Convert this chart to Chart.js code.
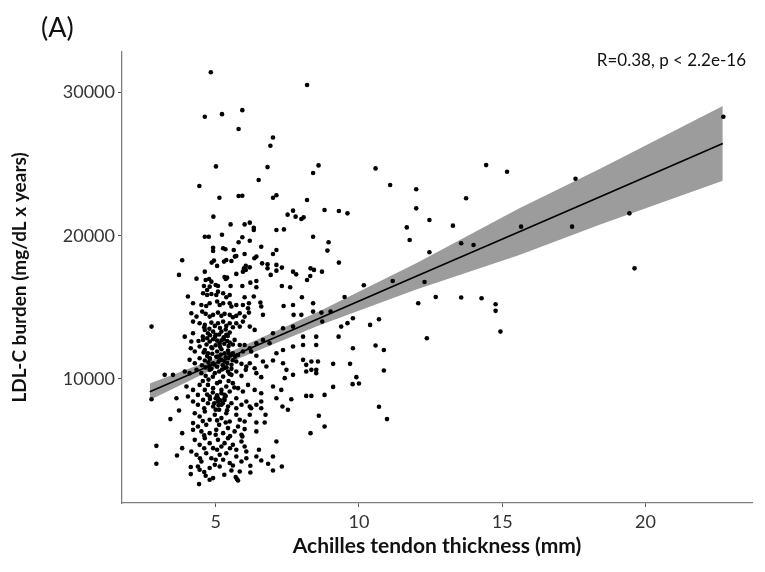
<!DOCTYPE html>
<html>
<head>
<meta charset="utf-8">
<script src="https://cdn.jsdelivr.net/npm/chart.js@4.4.1/dist/chart.umd.min.js"></script>
<style>
    html, body { margin: 0; padding: 0; background: #fff; }
    #wrap { position: relative; width: 765px; height: 572px; }
    .note { position: absolute; font-family: Lato, "Open Sans", sans-serif; color: #111; white-space: nowrap; }
    #panel { left: 41px; top: 10px; font-size: 27px; }
    #stat { right: 19px; top: 49px; font-size: 17px; }
</style>
</head>
<body>
<div id="wrap">
    <canvas id="scatterChart" width="765" height="572"></canvas>
    <div class="note" id="panel">(A)</div>
    <div class="note" id="stat">R=0.38, p &lt; 2.2e-16</div>
</div>
<script>
// each entry: [Achilles tendon thickness (mm), LDL-C burden (mg/dL x years)]
const patients = [
    [4.83,31420],[8.19,30520],[4.62,28310],[5.22,28490],[5.93,28770],[5.80,27450],[7.00,26860],[6.91,26280],[5.01,24840],[6.81,24790],
    [8.59,24910],[8.40,24380],[6.50,23890],[4.43,23470],[5.13,22650],[5.80,22770],[5.93,22790],[7.00,22650],[7.12,22820],[8.19,22490],
    [8.80,21790],[7.51,21470],[7.70,21750],[7.79,21330],[7.99,21170],[8.07,21280],[4.92,21330],[5.52,20790],[6.01,20790],[6.19,20910],
    [6.33,20560],[6.33,20400],[7.12,20400],[7.38,20440],[8.40,19930],[5.22,20070],[4.62,19930],[4.76,19930],[5.93,19890],[5.80,19540],
    [6.19,19650],[6.59,19230],[8.94,19540],[8.90,18960],[4.91,19160],[4.91,18930],[5.26,19120],[5.34,19050],[5.63,19000],[5.67,18540],
    [5.72,18580],[6.01,18720],[6.35,18420],[6.42,18540],[7.12,19000],[7.00,18720],[3.83,18280],[4.86,18120],[4.94,18260],[5.05,17890],
    [5.29,18190],[5.37,18300],[5.55,18230],[5.99,17720],[6.05,17610],[5.95,17490],[6.05,17890],[6.19,17790],[6.62,18070],[6.81,18000],
    [6.81,17720],[7.12,17960],[7.12,17560],[7.31,17770],[7.70,17490],[7.81,17300],[8.31,17720],[8.43,17610],[8.71,17490],[8.30,17190],
    [8.19,16910],[3.72,17260],[4.33,17000],[4.62,17490],[4.65,16910],[4.77,16980],[4.85,16790],[4.59,16490],[4.79,16440],[4.70,16210],
    [5.00,16560],[5.08,16490],[5.31,17120],[5.40,17070],[5.35,16980],[5.52,16490],[5.72,17330],[5.93,16490],[6.21,16720],[6.42,16840],
    [6.42,16400],[6.92,17260],[7.31,16490],[7.60,16400],[8.01,15700],[4.03,15750],[4.56,15980],[4.70,15860],[4.85,15930],[5.08,16090],
    [5.02,15860],[5.26,15980],[5.49,15860],[5.37,15700],[6.01,15700],[6.33,15750],
    [4.21,15280],[4.50,15160],[4.67,15090],[4.79,15280],[5.05,15400],[5.14,15160],[5.26,15280],[5.49,15280],[5.55,15050],[5.72,15160],
    [5.95,15160],[6.16,15280],[6.13,14930],[6.56,15330],[6.59,15050],[7.37,15090],[7.70,15160],[8.40,15280],
    [4.15,14580],[4.33,14350],[4.53,14700],[4.65,14540],[4.79,14350],[4.91,14470],[5.08,14630],[5.20,14400],[5.31,14540],[5.49,14470],
    [5.60,14300],[5.72,14400],[5.84,14580],[6.01,14350],[6.16,14630],[6.65,14470],[7.72,14470],[7.99,14470],[8.40,14700],[8.69,14630],
    [8.72,14000],[2.76,13650],
    [4.21,14000],[4.44,13880],[4.62,13770],[4.85,13930],[4.97,13700],[5.08,13880],[5.26,14000],[5.37,13700],[5.49,13880],[5.72,13880],
    [5.84,13650],[5.95,14000],[6.19,13650],[6.36,13420],[4.21,13190],[3.92,12950],[4.15,12610],[4.62,13420],[4.73,13190],[4.91,13300],
    [5.00,13070],[5.20,13300],[5.37,13070],[5.49,13230],[7.00,13190],[7.35,13540],[7.70,13650],[8.05,12950],[8.51,12950],[8.05,12370],
    [8.51,12370],
    [4.56,12720],[4.70,12840],[4.79,12610],[4.91,12770],[5.05,12670],[5.14,12490],[5.28,12770],[5.49,12540],[5.66,12720],[5.84,12370],
    [6.01,12370],[6.19,12140],[6.42,12490],[6.65,12720],[6.88,12490],[7.12,11790],[4.13,12140],[4.27,11910],[4.44,12260],[4.62,12020],
    [4.73,11790],[4.88,12140],[5.05,11910],[5.20,12070],[5.31,11790],[5.43,11980],[5.60,11790],[5.78,11670],[5.95,11910],[6.24,11910],
    [6.42,11610],[7.35,12020],[7.70,12260],[8.05,11330],[8.16,10980],[8.34,11210],[8.51,10630],[8.57,11210],
    [4.09,11330],[4.27,11090],[4.44,11440],[4.62,11280],[4.79,11440],[4.91,11090],[5.08,11560],[5.20,11330],[5.31,11210],[5.43,11440],
    [5.55,10980],[5.72,11210],[5.90,11050],[6.07,10860],[6.19,11090],[6.36,10740],[6.65,11210],[6.77,10860],[7.00,11280],[7.35,11090],
    [7.47,10630],[7.70,10280],[3.22,10280],[3.51,10280],[3.92,10510],[4.09,10400],[4.33,10630],[4.50,10400],[4.65,10210],[4.79,10630],
    [4.97,10400],[5.12,10510],[5.26,10160],[5.43,10510],[5.55,10280],[5.72,10510],[5.90,10210],[6.05,10630],[6.42,10400],[6.59,10120],
    [8.16,10510],[8.34,10630],[8.51,10400],
    [3.98,9470],[4.21,9230],[4.44,9580],[4.62,9230],[4.73,9580],[4.91,9350],[5.05,9700],[5.20,9230],[5.37,9470],[5.49,9120],
    [5.60,9700],[5.78,9350],[5.95,9120],[6.13,9580],[6.36,9230],[6.59,9000],[7.00,9470],[7.29,9230],[7.41,10050],[3.63,8650],
    [4.03,8770],[4.38,8880],[4.79,8770],[5.08,8650],[5.31,8880],[5.72,8650],
    [2.76,8580],[3.72,7790],[3.42,7190],[3.83,6210],[2.93,5320],[2.93,4070],[3.83,5160],[3.65,4650],[4.15,4930],[4.13,3840],
    [4.13,3350],[4.44,3650],[4.42,2650],[4.65,3230],[4.79,2950],[4.91,3070],[5.70,3140],[5.78,2900],[5.74,3000],[5.55,3600],
    [5.84,3530],[6.21,3460],[6.21,3930],[7.00,3600],[7.31,3880],[6.83,4070],[6.59,4300],[6.42,4580],[7.00,4580],[7.12,5630],
    [6.51,5050],[6.42,6330],[6.42,6950],[6.01,6490],[5.93,5980],[6.19,7490],[6.24,7950],[6.59,7950],[6.74,7490],[6.71,6950],
    [7.12,8650],[7.33,8070],[7.52,7840],[7.64,8580],[8.16,8810],[8.34,8810],[8.80,8880],[8.60,7420],[8.80,6670],[8.31,6210],
    [4.21,8420],[4.38,8190],[4.56,8530],[4.73,8300],[4.91,8070],[5.08,8420],[5.20,8190],[5.31,8530],[5.43,8070],[5.55,8300],
    [5.72,7950],[5.90,8190],[6.07,8420],[6.19,8070],[6.42,8190],[6.59,8420],
    [4.27,7600],[4.44,7370],[4.62,7720],[4.79,7140],[4.97,7490],[5.12,7840],[5.20,7260],[5.37,7600],[5.49,7020],[5.72,7490],
    [5.84,7140],[6.01,7020],[4.21,6910],[4.38,6670],
    [4.21,6440],[4.50,6330],[4.67,6790],[4.79,6210],[5.02,6440],[5.12,6790],[5.26,6210],[5.43,6560],[5.66,6330],[5.78,6670],
    [5.90,6090],
    [4.27,5740],[4.44,5390],[4.62,5860],[4.79,5510],[4.91,5160],[5.08,5740],[5.20,5280],[5.31,5510],[5.43,5860],[5.60,5390],
    [5.72,5050],[5.90,5630],[6.01,5280],
    [4.33,4700],[4.50,4230],[4.67,4810],[4.85,4460],[4.97,4000],[5.14,4700],[5.26,4350],[5.37,4810],[5.49,4120],[5.72,4580],
    [5.90,4230],[6.07,4460],[6.07,4930],[4.38,3880],[4.79,3770],[5.14,3880],
    [4.68,12400],[4.85,12200],[5.00,12350],[5.15,12250],[5.30,12450],[5.45,12300],[4.70,11600],[4.88,11750],[5.02,11550],[5.18,11700],
    [5.35,11500],[5.50,11650],[4.75,11150],[4.95,11000],[5.10,11200],[5.25,10950],[5.40,11100],[5.60,11300],[4.80,13050],[4.98,12950],
    [5.12,13100],[5.28,12900],[5.42,13000],[4.65,10800],[4.85,10700],[5.05,10850],[5.22,10650],[5.38,10800],[5.55,10700],[4.70,8900],
    [4.90,9050],[5.05,8850],[5.20,9000],[5.35,8800],[4.80,8600],[5.00,8650],[5.15,8500],[5.30,8600],[4.95,8300],[5.10,8150],
    [5.25,8300],
    [4.60,13600],[4.78,13500],[5.15,13550],[5.35,13450],[5.60,13600],[4.55,12950],[5.20,12700],[5.40,12650],[5.60,12400],[4.40,12650],
    [4.58,11850],[4.80,11400],[5.12,11450],[5.45,11800],[5.68,11550],[4.52,10950],[4.78,10900],[5.30,10750],[5.48,10350],[4.90,10150],
    [4.55,9850],[4.75,9950],[5.15,9800],[5.45,9850],[5.65,9400],[4.60,7950],[5.00,7850],[5.40,7800],[4.55,7050],[5.05,7100],
    [5.35,6950],[4.60,6050],[5.00,6100],[5.50,6000],[4.60,5150],[5.05,5050],[5.50,5150],[4.45,4450],[5.00,4350],[5.60,3950],
    [4.60,3500],[5.30,3300],
    [10.58,24700],[11.09,23540],[12.00,23240],[12.00,21910],[13.74,22610],[14.44,24930],[15.17,24470],[9.30,21720],[9.60,21560],[9.30,18120],
    [11.67,20580],[11.77,19700],[12.46,21100],[13.28,20700],[13.57,19470],[14.00,19350],[12.46,18840],[10.17,16540],[11.18,16840],[12.29,16770],
    [9.50,15720],[9.01,14700],[9.79,14230],[9.60,13890],[9.38,13650],[10.39,13770],[10.70,14160],[9.29,12950],[12.07,15280],[12.68,15720],
    [13.57,15680],[14.28,15630],[14.77,15210],[14.77,14750],[14.94,13300],[12.37,12840],[9.79,12140],[10.58,12330],[10.87,12020],[9.10,11050],
    [9.69,11050],[10.87,10580],[9.91,10120],[10.00,9680],[9.78,9630],[9.10,9440],[10.70,8050],[10.98,7190],
    [17.56,23980],[15.66,20630],[17.44,20630],[19.44,21560],[19.62,17720],[22.72,28310]
];

// fitted line and its confidence band
const fitX = [2.7, 5, 8.6, 12, 15.6, 18.4, 22.7];
const fitY = [9100, 11090, 14220, 17160, 20280, 22710, 26440];
const fitLower = [8520, 10760, 13730, 16250, 18650, 20760, 23840];
const fitUpper = [9680, 11420, 14710, 18070, 21910, 24660, 29050];

const xTicks = [5, 10, 15, 20];
const yTicks = [10000, 20000, 30000];

const toXY = (xs, ys) => xs.map((x, i) => ({ x: x, y: ys[i] }));

const ctx = document.getElementById("scatterChart").getContext("2d");
const scatterChart = new Chart(ctx, {
    type: "scatter",
    data: {
        datasets: [
            {
                type: "line",
                data: toXY(fitX, fitUpper),
                fill: "+1",
                backgroundColor: "#9c9c9c",
                borderWidth: 0,
                pointRadius: 0,
                order: 3,
            },
            {
                type: "line",
                data: toXY(fitX, fitLower),
                fill: false,
                borderWidth: 0,
                pointRadius: 0,
                order: 3,
            },
            {
                type: "line",
                data: toXY(fitX, fitY),
                borderColor: "#000",
                borderWidth: 1.6,
                pointRadius: 0,
                fill: false,
                order: 2,
            },
            {
                data: patients.map((p) => ({ x: p[0], y: p[1] })),
                backgroundColor: "#000",
                borderWidth: 0,
                pointRadius: 2.3,
                order: 1,
            },
        ],
    },
    options: {
        responsive: false,
        animation: false,
        layout: { padding: { top: 52, right: 13, left: 0, bottom: 0 } },
        plugins: {
            legend: { display: false },
            tooltip: { enabled: false },
        },
        scales: {
            x: {
                type: "linear",
                min: 1.73,
                max: 23.72,
                afterBuildTicks: (scale) => { scale.ticks = xTicks.map((v) => ({ value: v })); },
                afterFit: (scale) => { scale.height = 69; },
                grid: { drawOnChartArea: false, tickLength: 4, color: "#555" },
                border: { color: "#808080", width: 1.3 },
                ticks: { padding: 4, color: "#333", font: { family: "Lato", size: 18 }, callback: (v) => String(v) },
                title: {
                    display: true,
                    text: "Achilles tendon thickness (mm)",
                    color: "#111",
                    font: { family: "Lato", size: 21, weight: "bold" },
                    padding: { top: 4, bottom: 13 },
                },
            },
            y: {
                type: "linear",
                min: 1330,
                max: 32830,
                afterBuildTicks: (scale) => { scale.ticks = yTicks.map((v) => ({ value: v })); },
                afterFit: (scale) => { scale.width = 122; },
                grid: { drawOnChartArea: false, tickLength: 4, color: "#555" },
                border: { color: "#808080", width: 1.3 },
                ticks: { padding: 3, color: "#333", font: { family: "Lato", size: 18 }, callback: (v) => String(v) },
                title: {
                    display: true,
                    text: "LDL-C burden (mg/dL x years)",
                    color: "#111",
                    font: { family: "Lato", size: 19, weight: "bold" },
                    padding: { top: 8, bottom: 4 },
                },
            },
        },
    },
});
</script>
</body>
</html>
